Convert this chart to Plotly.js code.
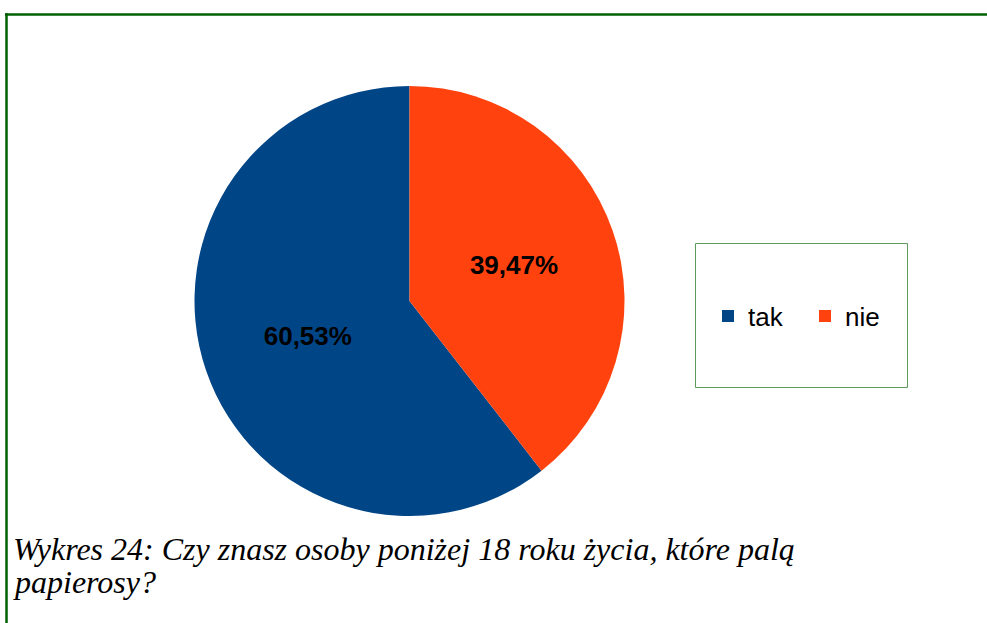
<!DOCTYPE html>
<html>
<head>
<meta charset="utf-8">
<script src="https://cdn.plot.ly/plotly-3.0.1.min.js"></script>
<style>html,body{margin:0;padding:0;background:#fff;}#chart{width:987px;height:623px;}</style>
</head>
<body>
<div id="chart"></div>
<script>
var categories = ["tak", "nie"];
var values = [23, 15];
var colors = ["#004586", "#ff420e"];
var captionLines = ["Wykres 24: Czy znasz osoby poniżej 18 roku życia, które palą", "papierosy?"];

var W = 987, H = 623;
function px(x){ return x / W; }
function py(y){ return 1 - y / H; }
var total = values.reduce(function(a, b){ return a + b; }, 0);

var data = [{
  type: "pie",
  labels: categories,
  values: values,
  sort: false,
  direction: "clockwise",
  rotation: -360 * values[0] / total,
  marker: { colors: colors, line: { width: 0 } },
  textinfo: "percent",
  texttemplate: "%{percent:.2%}",
  textposition: "inside",
  insidetextorientation: "horizontal",
  textfont: { family: "Liberation Sans, Arial, sans-serif", size: 26, color: "#000000", weight: "bold" },
  hoverinfo: "label+percent",
  domain: { x: [px(194), px(625)], y: [py(516), py(86)] }
}];

var layout = {
  width: W, height: H,
  margin: { l: 0, r: 0, t: 0, b: 0 },
  paper_bgcolor: "#ffffff",
  separators: ", ",
  showlegend: true,
  legend: {
    orientation: "h",
    x: px(708), xanchor: "left",
    y: py(316), yanchor: "middle",
    entrywidth: 52,
    entrywidthmode: "pixels",
    font: { family: "Liberation Sans, Arial, sans-serif", size: 26, color: "#000000" },
    bgcolor: "rgba(0,0,0,0)",
    borderwidth: 0,
    traceorder: "normal"
  },
  shapes: [
    { type: "line", xref: "paper", yref: "paper", x0: px(5), x1: px(990), y0: py(14.5), y1: py(14.5), line: { color: "#006000", width: 2.5 } },
    { type: "line", xref: "paper", yref: "paper", x0: px(6.5), x1: px(6.5), y0: py(13.3), y1: py(630), line: { color: "#006000", width: 2.5 } },
    { type: "rect", xref: "paper", yref: "paper", x0: px(695.5), x1: px(907.5), y0: py(243.5), y1: py(387.5), line: { color: "#5a9a5a", width: 1 }, fillcolor: "rgba(0,0,0,0)" }
  ],
  annotations: [
    { xref: "paper", yref: "paper", x: px(11), y: py(549), xanchor: "left", yanchor: "middle", showarrow: false, align: "left",
      text: captionLines[0], font: { family: "Liberation Serif, Times New Roman, serif", size: 32, color: "#000000", style: "italic" } },
    { xref: "paper", yref: "paper", x: px(11), y: py(582), xanchor: "left", yanchor: "middle", showarrow: false, align: "left",
      text: captionLines[1], font: { family: "Liberation Serif, Times New Roman, serif", size: 32, color: "#000000", style: "italic" } }
  ]
};

Plotly.newPlot("chart", data, layout, { displayModeBar: false, staticPlot: true });
</script>
</body>
</html>
